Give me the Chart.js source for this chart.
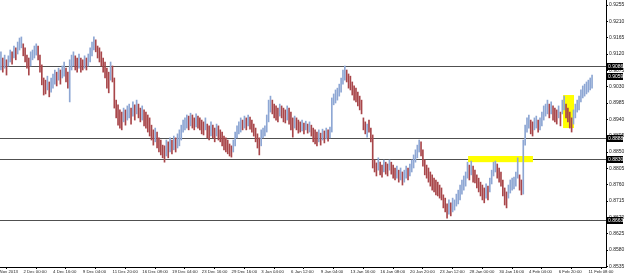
<!DOCTYPE html>
<html><head><meta charset="utf-8">
<script src="https://cdn.jsdelivr.net/npm/chart.js@4.4.0/dist/chart.umd.min.js"></script>
<style>html,body{margin:0;padding:0;background:#fff;overflow:hidden}canvas{display:block}</style>
</head><body>
<canvas id="c" width="625" height="276"></canvas>
<script>
// H4 bars, oldest first
const barHighs = [
0.9126,0.9109,0.9117,0.9104,0.9115,0.9131,0.9126,0.9142,0.9137,0.9153,
0.9164,0.9167,0.9148,0.9137,0.9117,0.9109,0.9126,0.9131,0.9142,0.9148,
0.9142,0.9117,0.9090,0.9054,0.9048,0.9059,0.9043,0.9054,0.9065,0.9076,
0.9070,0.9081,0.9076,0.9087,0.9098,0.9081,0.9070,0.9104,0.9117,0.9126,
0.9115,0.9109,0.9120,0.9109,0.9104,0.9115,0.9109,0.9120,0.9137,0.9153,
0.9167,0.9159,0.9142,0.9137,0.9126,0.9109,0.9098,0.9081,0.9070,0.9098,
0.9087,0.9054,0.8993,0.8980,0.8966,0.8960,0.8971,0.8966,0.8977,0.8982,
0.8971,0.8988,0.8980,0.8993,0.8982,0.8971,0.8977,0.8966,0.8960,0.8952,
0.8944,0.8924,0.8911,0.8916,0.8905,0.8889,0.8883,0.8869,0.8867,0.8883,
0.8878,0.8889,0.8883,0.8894,0.8889,0.8900,0.8911,0.8924,0.8938,0.8944,
0.8952,0.8949,0.8957,0.8952,0.8944,0.8955,0.8949,0.8944,0.8938,0.8933,
0.8944,0.8927,0.8922,0.8933,0.8924,0.8916,0.8927,0.8922,0.8911,0.8905,
0.8894,0.8889,0.8883,0.8872,0.8867,0.8883,0.8905,0.8922,0.8933,0.8944,
0.8938,0.8949,0.8944,0.8952,0.8946,0.8938,0.8927,0.8916,0.8900,0.8889,
0.8911,0.8916,0.8922,0.8952,0.8993,0.9004,0.8993,0.8982,0.8977,0.8971,
0.8982,0.8977,0.8971,0.8966,0.8977,0.8971,0.8960,0.8944,0.8949,0.8944,
0.8938,0.8933,0.8938,0.8930,0.8935,0.8927,0.8933,0.8924,0.8916,0.8911,
0.8905,0.8911,0.8902,0.8913,0.8908,0.8916,0.8911,0.8919,0.8999,0.9010,
0.9021,0.9026,0.9037,0.9054,0.9076,0.9087,0.9076,0.9065,0.9059,0.9043,
0.9032,0.9026,0.9015,0.9004,0.8993,0.8944,0.8933,0.8927,0.8938,0.8916,
0.8897,0.8828,0.8820,0.8834,0.8822,0.8814,0.8828,0.8822,0.8817,0.8828,
0.8822,0.8814,0.8806,0.8811,0.8800,0.8806,0.8795,0.8800,0.8811,0.8806,
0.8817,0.8828,0.8842,0.8856,0.8869,0.8883,0.8878,0.8856,0.8828,0.8814,
0.8806,0.8795,0.8787,0.8778,0.8773,0.8767,0.8759,0.8751,0.8732,0.8723,
0.8707,0.8718,0.8710,0.8723,0.8718,0.8734,0.8745,0.8759,0.8773,0.8784,
0.8795,0.8822,0.8814,0.8825,0.8811,0.8800,0.8787,0.8778,0.8767,0.8759,
0.8751,0.8762,0.8756,0.8778,0.8800,0.8822,0.8825,0.8817,0.8806,0.8795,
0.8773,0.8751,0.8740,0.8759,0.8773,0.8778,0.8781,0.8795,0.8834,0.8787,
0.8773,0.8883,0.8924,0.8944,0.8952,0.8938,0.8933,0.8944,0.8949,0.8938,
0.8944,0.8960,0.8977,0.8982,0.8993,0.8982,0.8988,0.8977,0.8971,0.8966,
0.8977,0.8960,0.8993,0.9004,0.8982,0.8971,0.8960,0.8944,0.8966,0.8982,
0.8993,0.9004,0.9021,0.9032,0.9037,0.9043,0.9048,0.9054,0.9062
];
const barLows = [
0.9076,0.9070,0.9081,0.9062,0.9087,0.9098,0.9092,0.9109,0.9104,0.9120,
0.9131,0.9137,0.9115,0.9098,0.9081,0.9062,0.9087,0.9104,0.9109,0.9117,
0.9104,0.9070,0.9035,0.9007,0.9010,0.9021,0.9002,0.9015,0.9026,0.9037,
0.9032,0.9048,0.9037,0.9054,0.9059,0.9043,0.9026,0.8988,0.9076,0.9087,
0.9076,0.9070,0.9081,0.9070,0.9076,0.9081,0.9076,0.9087,0.9098,0.9115,
0.9131,0.9126,0.9109,0.9098,0.9087,0.9070,0.9054,0.9026,0.9013,0.9048,
0.9043,0.8971,0.8944,0.8924,0.8916,0.8911,0.8933,0.8924,0.8938,0.8944,
0.8927,0.8949,0.8938,0.8955,0.8944,0.8933,0.8938,0.8922,0.8916,0.8905,
0.8894,0.8883,0.8869,0.8878,0.8861,0.8850,0.8842,0.8834,0.8822,0.8839,
0.8834,0.8850,0.8845,0.8856,0.8850,0.8861,0.8867,0.8883,0.8905,0.8911,
0.8916,0.8911,0.8922,0.8916,0.8911,0.8919,0.8916,0.8911,0.8900,0.8897,
0.8911,0.8889,0.8883,0.8894,0.8889,0.8878,0.8894,0.8883,0.8878,0.8867,
0.8856,0.8850,0.8845,0.8839,0.8836,0.8850,0.8867,0.8889,0.8900,0.8905,
0.8911,0.8916,0.8911,0.8922,0.8913,0.8905,0.8894,0.8878,0.8861,0.8842,
0.8867,0.8889,0.8894,0.8905,0.8933,0.8960,0.8955,0.8944,0.8938,0.8933,
0.8949,0.8944,0.8933,0.8930,0.8938,0.8927,0.8911,0.8891,0.8916,0.8911,
0.8902,0.8905,0.8908,0.8900,0.8911,0.8902,0.8905,0.8894,0.8878,0.8872,
0.8867,0.8878,0.8869,0.8883,0.8875,0.8886,0.8880,0.8889,0.8905,0.8980,
0.8985,0.8993,0.9004,0.9015,0.9037,0.9048,0.9043,0.9026,0.9021,0.9007,
0.8993,0.8988,0.8977,0.8966,0.8955,0.8911,0.8900,0.8891,0.8905,0.8878,
0.8806,0.8795,0.8784,0.8800,0.8787,0.8781,0.8795,0.8789,0.8784,0.8800,
0.8789,0.8778,0.8773,0.8778,0.8767,0.8773,0.8759,0.8767,0.8778,0.8773,
0.8784,0.8795,0.8806,0.8822,0.8834,0.8850,0.8839,0.8811,0.8787,0.8778,
0.8767,0.8756,0.8745,0.8740,0.8732,0.8729,0.8723,0.8718,0.8696,0.8685,
0.8668,0.8679,0.8674,0.8685,0.8690,0.8701,0.8707,0.8718,0.8734,0.8745,
0.8756,0.8778,0.8773,0.8787,0.8767,0.8765,0.8751,0.8740,0.8729,0.8718,
0.8710,0.8723,0.8718,0.8740,0.8762,0.8784,0.8795,0.8778,0.8767,0.8756,
0.8729,0.8704,0.8696,0.8723,0.8737,0.8745,0.8748,0.8756,0.8778,0.8745,
0.8732,0.8734,0.8869,0.8905,0.8916,0.8900,0.8894,0.8911,0.8916,0.8905,
0.8911,0.8922,0.8938,0.8949,0.8955,0.8944,0.8955,0.8938,0.8933,0.8927,
0.8944,0.8922,0.8955,0.8966,0.8944,0.8933,0.8916,0.8905,0.8927,0.8944,
0.8960,0.8966,0.8988,0.8999,0.9004,0.9010,0.9015,0.9021,0.9026
];
// u = bull bar, d = bear bar
const barDirections = (
"ududuududu uudddduuuu ddddduduuu duduudduuu ddudduduuu uddddddddu dddddduduu dududduddd " +
"dddudddddu dududuuuuu ududdudddd uddudduddd ddddduuuuu dududddddd uuuuuudddd udddudddud " +
"ddudududdd dudududuuu uuuuuudddd dddddddudd dddudduddu dddududuud uuuuuudddd dddddddddd " +
"duduuuuuuu uududddddd duduuuuddd ddduuuuuud duuuudduud uuuuududdd uduudddduu uuuuuuuuu"
).replace(/\s/g, '');

const timeLabels = ["2 Dec 00:00","4 Dec 16:00","9 Dec 04:00","11 Dec 20:00","16 Dec 08:00",
  "19 Dec 04:00","23 Dec 16:00","29 Dec 16:00","3 Jan 04:00","6 Jan 12:00","9 Jan 04:00",
  "13 Jan 16:00","16 Jan 08:00","20 Jan 20:00","23 Jan 12:00","28 Jan 00:00","30 Jan 16:00",
  "4 Feb 04:00","6 Feb 20:00","11 Feb 08:00"];
const cutLabel = "28 Nov 2013";
const firstLabelBar = 11, barsPerLabel = 16, totalSlots = 326;

const priceTicks = [0.9255,0.9210,0.9165,0.9120,0.9075,0.9030,0.8985,0.8940,0.8895,
  0.8850,0.8805,0.8760,0.8715,0.8670,0.8625,0.8580,0.8535];
const priceMin = 0.85332, priceMax = 0.92688;
const levelLines = [0.9086, 0.8888, 0.8830, 0.8663];
const lastPrice = 0.9059;
const zones = [
  {from: 251.3, to: 286.2, top: 0.8839, bottom: 0.8822},
  {from: 302.4, to: 308.3, top: 0.9007, bottom: 0.8916}
];

const FONT = "'Liberation Sans', Arial, sans-serif";
const categories = Array.from({length: totalSlots}, (_, i) => {
  const k = (i - firstLabelBar) / barsPerLabel;
  return (Number.isInteger(k) && k >= 0 && k < timeLabels.length) ? timeLabels[k] : '';
});
const ranges = barHighs.map((h, i) => [barLows[i], h]);
const colors = barHighs.map((_, i) => barDirections[i] === 'u' ? '#8ea7d4' : '#a8464a');

const overlay = {
  id: 'overlay',
  beforeDatasetsDraw(chart) {
    const {ctx, chartArea: a, scales: {x, y}} = chart;
    ctx.save();
    ctx.beginPath(); ctx.rect(a.left, a.top, a.right - a.left, a.bottom - a.top); ctx.clip();
    ctx.strokeStyle = '#505050'; ctx.lineWidth = 1;
    levelLines.forEach(v => {
      const py = Math.round(y.getPixelForValue(v)) + 0.5;
      ctx.beginPath(); ctx.moveTo(a.left, py); ctx.lineTo(a.right, py); ctx.stroke();
    });
    ctx.fillStyle = '#ffff00';
    zones.forEach(z => {
      const x0 = x.getPixelForValue(z.from), x1 = x.getPixelForValue(z.to);
      const y0 = y.getPixelForValue(z.top), y1 = y.getPixelForValue(z.bottom);
      ctx.fillRect(x0, y0, x1 - x0, y1 - y0);
    });
    ctx.restore();
  },
  afterDraw(chart) {
    const {ctx, chartArea: a, scales: {x, y}} = chart;
    ctx.save();
    ctx.font = '5px ' + FONT;
    ctx.textBaseline = 'middle';
    ctx.textAlign = 'left';
    [...levelLines, lastPrice].forEach(v => {
      const py = y.getPixelForValue(v);
      ctx.fillStyle = '#000';
      ctx.fillRect(a.right, Math.round(py) - 3, 17, 7);
      ctx.fillStyle = '#fff';
      ctx.fillText(v.toFixed(4), a.right + 2, py + 0.5);
    });
    ctx.fillStyle = '#222';
    ctx.font = '4.3px ' + FONT;
    ctx.textBaseline = 'top';
    ctx.fillText(cutLabel, x.getPixelForValue(firstLabelBar - barsPerLabel) + 2, a.bottom + 3);
    ctx.restore();
  }
};

new Chart(document.getElementById('c'), {
  type: 'bar',
  data: {
    labels: categories,
    datasets: [{
      data: ranges,
      backgroundColor: colors,
      borderWidth: 0,
      borderSkipped: false,
      barThickness: 1,
      grouped: false
    }]
  },
  options: {
    responsive: false,
    animation: false,
    events: [],
    layout: {padding: 0},
    plugins: {legend: {display: false}, tooltip: {enabled: false}},
    scales: {
      x: {
        type: 'category',
        offset: true,
        grid: {display: true, drawOnChartArea: false, drawTicks: true, tickLength: 2, color: '#000'},
        border: {display: true, color: '#000'},
        ticks: {autoSkip: false, maxRotation: 0, minRotation: 0, align: 'start', padding: 0,
          labelOffset: 2, font: {size: 4.3, family: FONT}, color: '#222'},
        afterBuildTicks: s => { s.ticks = s.ticks.filter(t => categories[t.value]); },
        afterFit: s => { s.height = 9; s.paddingLeft = 0; s.paddingRight = 0; }
      },
      y: {
        position: 'right',
        min: priceMin, max: priceMax,
        grid: {display: true, drawOnChartArea: false, drawTicks: true, tickLength: 2, color: '#000'},
        border: {display: true, color: '#000'},
        ticks: {autoSkip: false, padding: 1, font: {size: 5, family: FONT}, color: '#222',
          callback: v => Number(v).toFixed(4)},
        afterBuildTicks: s => { s.ticks = priceTicks.map(v => ({value: v})); },
        afterFit: s => { s.width = 19; s.paddingTop = 0; s.paddingBottom = 0; }
      }
    }
  },
  plugins: [overlay]
});
</script>
</body></html>
